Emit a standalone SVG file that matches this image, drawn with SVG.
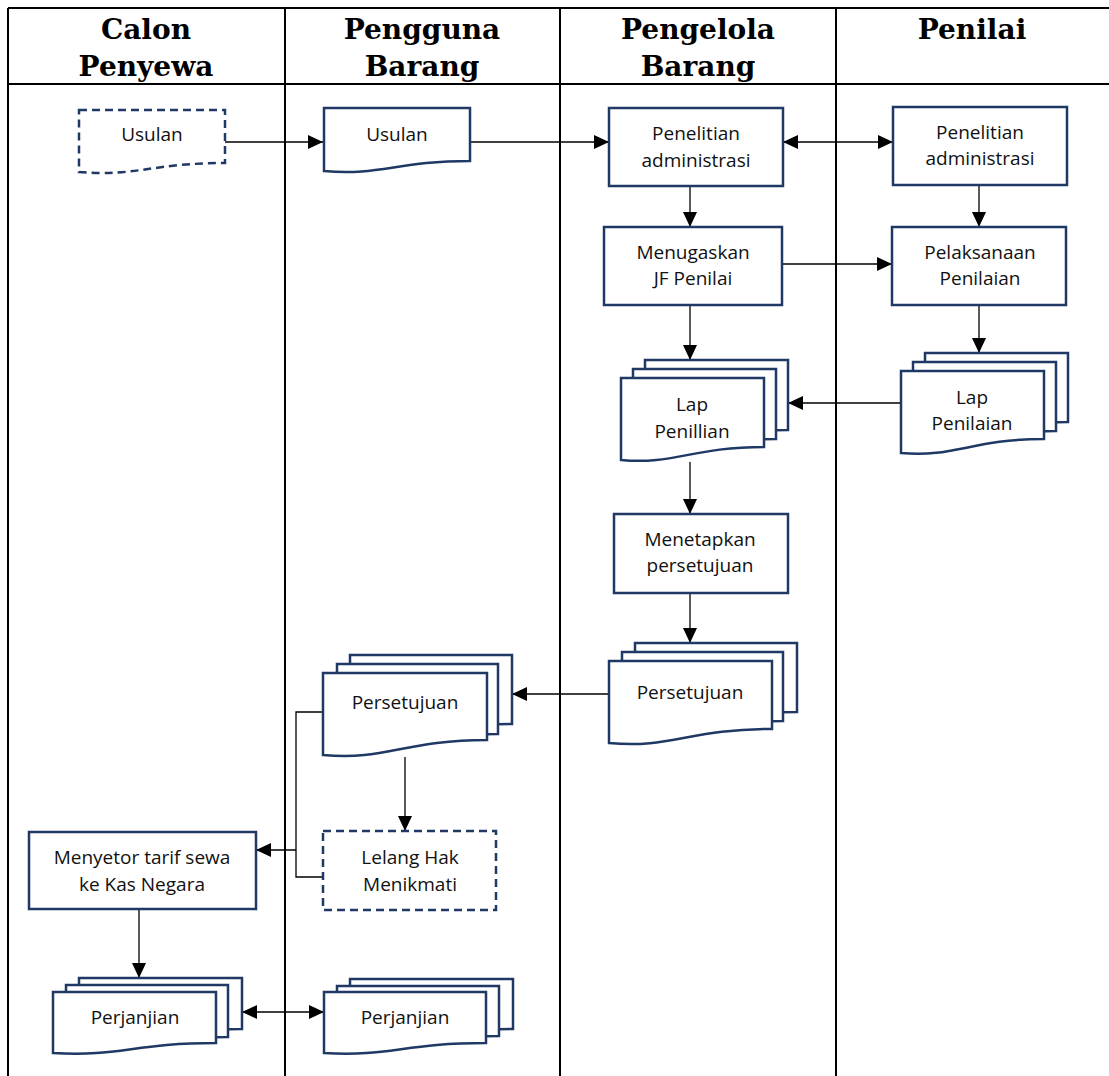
<svg xmlns="http://www.w3.org/2000/svg" width="1109" height="1076" viewBox="0 0 1109 1076">
  <style>
    .lane { stroke: #000; stroke-width: 2; fill: none; }
    .hdr { font-family: "DejaVu Serif", "Liberation Serif", serif; font-weight: bold; font-size: 28px; fill: #000; text-anchor: middle; }
    .box { fill: #fff; stroke: #1f3864; stroke-width: 2.5; }
    .dash { stroke-dasharray: 8 5; }
    .lbl { font-family: "Open Sans", "Noto Sans", "Liberation Sans", sans-serif; font-size: 19px; fill: #111; text-anchor: middle; }
    .con { stroke: #000; stroke-width: 1.3; fill: none; }
    .arr { marker-end: url(#head); }
    .both { marker-start: url(#head); marker-end: url(#head); }
  </style>
  <defs>
    <marker id="head" markerUnits="userSpaceOnUse" markerWidth="16" markerHeight="14" refX="15" refY="7" orient="auto-start-reverse">
      <path d="M0,0 L15,7 L0,14 Z" fill="#000"/>
    </marker>
  </defs>

  <rect width="1109" height="1076" fill="#fff"/>

  <!-- swimlane frame -->
  <g id="lanes">
    <path class="lane" d="M8,8 H1109 M8,84 H1109 M8,8 V1076 M285,8 V1076 M560,8 V1076 M836,8 V1076"/>
    <text class="hdr" x="146" y="39">Calon</text>
    <text class="hdr" x="146" y="76">Penyewa</text>
    <text class="hdr" x="422" y="39">Pengguna</text>
    <text class="hdr" x="422" y="76">Barang</text>
    <text class="hdr" x="698" y="39">Pengelola</text>
    <text class="hdr" x="698" y="76">Barang</text>
    <text class="hdr" x="972" y="39">Penilai</text>
  </g>

  <!-- connectors -->
  <g id="connectors">
    <path class="con arr" d="M225,142 H323"/>
    <path class="con arr" d="M470,142 H609"/>
    <path class="con both" d="M783,142 H893"/>
    <path class="con arr" d="M690,186 V227"/>
    <path class="con arr" d="M979,185 V227"/>
    <path class="con arr" d="M781,264 H892"/>
    <path class="con arr" d="M690,305 V360"/>
    <path class="con arr" d="M979,305 V353"/>
    <path class="con arr" d="M901,403 H788"/>
    <path class="con arr" d="M690,462 V514"/>
    <path class="con arr" d="M690,593 V643"/>
    <path class="con arr" d="M609,694 H512"/>
    <path class="con" d="M323,712 H296 V877 H323"/>
    <path class="con arr" d="M296,850 H256"/>
    <path class="con arr" d="M405,757 V831"/>
    <path class="con arr" d="M139,909 V978"/>
    <path class="con both" d="M242,1012 H324"/>
  </g>

  <!-- Calon Penyewa -->
  <g id="usulan-calon">
    <path class="box dash" d="M79,110 H225 V163 C152,163 135,177 79,172 Z"/>
    <text class="lbl" x="152" y="141">Usulan</text>
  </g>
  <g id="menyetor">
    <rect class="box" x="29" y="832" width="227" height="77"/>
    <text class="lbl" x="142" y="864">Menyetor tarif sewa</text>
    <text class="lbl" x="142" y="891">ke Kas Negara</text>
  </g>
  <g id="perjanjian-calon">
    <path class="box" d="M79,978 H242 V1029 C160,1029 145,1043 79,1039 Z"/>
    <path class="box" d="M66,985 H228 V1037 C146,1037 131,1051 66,1047 Z"/>
    <path class="box" d="M53,992 H216 V1043 C134,1043 119,1057 53,1053 Z"/>
    <text class="lbl" x="135" y="1024">Perjanjian</text>
  </g>

  <!-- Pengguna Barang -->
  <g id="usulan-pengguna">
    <path class="box" d="M324,108 H470 V161 C397,161 380,176 324,171 Z"/>
    <text class="lbl" x="397" y="141">Usulan</text>
  </g>
  <g id="persetujuan-pengguna">
    <path class="box" d="M350,655 H512 V724 C430,724 410,743 350,738 Z"/>
    <path class="box" d="M337,664 H498 V734 C416,734 396,753 337,748 Z"/>
    <path class="box" d="M323,673 H487 V740 C405,740 385,761 323,755 Z"/>
    <text class="lbl" x="405" y="709">Persetujuan</text>
  </g>
  <g id="lelang">
    <rect class="box dash" x="323" y="831" width="173" height="79"/>
    <text class="lbl" x="410" y="864">Lelang Hak</text>
    <text class="lbl" x="410" y="891">Menikmati</text>
  </g>
  <g id="perjanjian-pengguna">
    <path class="box" d="M350,979 H513 V1029 C431,1029 416,1043 350,1039 Z"/>
    <path class="box" d="M337,986 H499 V1036 C417,1036 402,1050 337,1046 Z"/>
    <path class="box" d="M324,992 H486 V1043 C404,1043 389,1057 324,1053 Z"/>
    <text class="lbl" x="405" y="1024">Perjanjian</text>
  </g>

  <!-- Pengelola Barang -->
  <g id="penelitian-pengelola">
    <rect class="box" x="609" y="108" width="174" height="78"/>
    <text class="lbl" x="696" y="140">Penelitian</text>
    <text class="lbl" x="696" y="167">administrasi</text>
  </g>
  <g id="menugaskan">
    <rect class="box" x="604" y="227" width="178" height="78"/>
    <text class="lbl" x="693" y="259">Menugaskan</text>
    <text class="lbl" x="693" y="285">JF Penilai</text>
  </g>
  <g id="lap-penillian">
    <path class="box" d="M645,360 H788 V430 C716,430 698,447 645,443 Z"/>
    <path class="box" d="M633,369 H776 V439 C704,439 686,456 633,452 Z"/>
    <path class="box" d="M621,378 H764 V447 C692,447 674,465 621,460 Z"/>
    <text class="lbl" x="692" y="411">Lap</text>
    <text class="lbl" x="692" y="438">Penillian</text>
  </g>
  <g id="menetapkan">
    <rect class="box" x="614" y="514" width="174" height="79"/>
    <text class="lbl" x="700" y="546">Menetapkan</text>
    <text class="lbl" x="700" y="572">persetujuan</text>
  </g>
  <g id="persetujuan-pengelola">
    <path class="box" d="M635,643 H797 V712 C716,712 695,731 635,726 Z"/>
    <path class="box" d="M622,652 H783 V721 C702,721 682,740 622,735 Z"/>
    <path class="box" d="M609,661 H772 V729 C690,729 670,749 609,743 Z"/>
    <text class="lbl" x="690" y="699">Persetujuan</text>
  </g>

  <!-- Penilai -->
  <g id="penelitian-penilai">
    <rect class="box" x="893" y="107" width="174" height="78"/>
    <text class="lbl" x="980" y="139">Penelitian</text>
    <text class="lbl" x="980" y="165">administrasi</text>
  </g>
  <g id="pelaksanaan">
    <rect class="box" x="892" y="227" width="174" height="78"/>
    <text class="lbl" x="980" y="259">Pelaksanaan</text>
    <text class="lbl" x="980" y="285">Penilaian</text>
  </g>
  <g id="lap-penilaian">
    <path class="box" d="M925,353 H1068 V422 C996,422 978,439 925,435 Z"/>
    <path class="box" d="M913,362 H1056 V431 C984,431 966,448 913,444 Z"/>
    <path class="box" d="M901,371 H1044 V439 C972,439 954,458 901,453 Z"/>
    <text class="lbl" x="972" y="404">Lap</text>
    <text class="lbl" x="972" y="430">Penilaian</text>
  </g>
</svg>
